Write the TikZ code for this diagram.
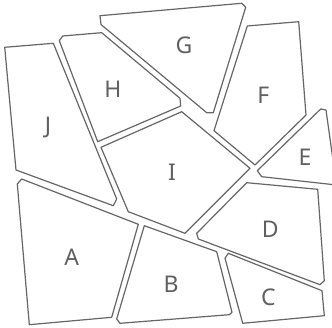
\documentclass[tikz,border=0pt]{standalone}
\usepackage{fontspec}
\setmainfont{Noto Sans}
\definecolor{linegray}{HTML}{666666}
\definecolor{labgray}{HTML}{606060}
\begin{document}
\begin{tikzpicture}[x=1pt,y=-1pt,
  cell/.style={draw=linegray, line width=1.2pt, fill=white, line join=round},
  lab/.style={text=labgray, font=\fontsize{23}{23}\selectfont, inner sep=0pt, anchor=center}]
\useasboundingbox (0,0) rectangle (332,328);
\clip (0,0) rectangle (332,328);
% J
\draw[cell] (4.7,47.3) -- (53.3,43.3) -- (116.7,199) -- (113.3,205.7) -- (16,170) -- cycle;
% H
\draw[cell] (59.3,40.7) -- (62.7,36) -- (101.7,32.7) -- (180,98.3) -- (180.7,106) -- (97.7,141.7) -- cycle;
% G
\draw[cell] (100,15.7) -- (241.7,3.3) -- (245.7,7.3) -- (213.3,112.7) -- (206.7,112.7) -- (101,24.5) -- cycle;
% F
\draw[cell] (247.3,26) -- (298.7,21.7) -- (306,115) -- (255,165) -- (214,130.7) -- cycle;
% I
\draw[cell] (101,147.3) -- (181.7,111.7) -- (250,168.3) -- (185,233.3) -- (128.3,211.7) -- cycle;
% E
\draw[cell] (257.3,170.7) -- (320.7,109) -- (326,110) -- (336.5,185) -- (261.7,176.7) -- cycle;
% D
\draw[cell] (246.7,182.7) -- (317.7,189.3) -- (324.3,280.7) -- (320,284.7) -- (198.3,239) -- (196.7,233.3) -- cycle;
% C
\draw[cell] (228.3,253.3) -- (322,290.7) -- (324.3,315.7) -- (242.7,323.3) -- (225,258.3) -- cycle;
% B
\draw[cell] (144.3,225.7) -- (216.7,251.7) -- (232,312.3) -- (229.3,314.7) -- (120,323.3) -- (116.7,319) -- cycle;
% A
\draw[cell] (17.3,184) -- (21.7,179) -- (138.3,224.3) -- (111.7,317.3) -- (29.3,324.7) -- cycle;
% labels
\node[lab] (lJ) at (48,127) {J};
\node[lab] (lH) at (113,89) {H};
\node[lab] (lG) at (184,45) {G};
\node[lab] (lF) at (263.3,95) {F};
\node[lab] (lE) at (305,157) {E};
\node[lab] (lI) at (172,172) {I};
\node[lab] (lD) at (270.3,229) {D};
\node[lab] (lC) at (268.3,297.3) {C};
\node[lab] (lB) at (171,284) {B};
\node[lab] (lA) at (71.7,257.3) {A};
\end{tikzpicture}
\end{document}
